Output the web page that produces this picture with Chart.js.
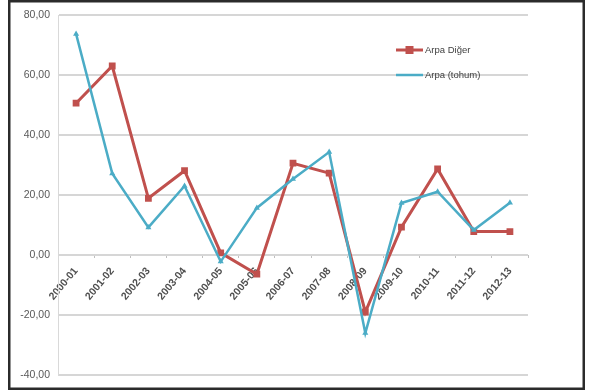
<!DOCTYPE html>
<html>
<head>
<meta charset="utf-8">
<script src="https://cdn.jsdelivr.net/npm/chart.js@4/dist/chart.umd.min.js"></script>
<style>
  html, body { margin: 0; padding: 0; background: #ffffff; }
  #wrap { position: relative; width: 596px; height: 391px; }
  canvas { display: block; filter: blur(0.45px); }
</style>
</head>
<body>
<div id="wrap"><canvas id="c" width="596" height="391"></canvas></div>
<script>
// ---- data ----
const categories = ["2000-01","2001-02","2002-03","2003-04","2004-05","2005-06","2006-07","2007-08","2008-09","2009-10","2010-11","2011-12","2012-13"];
const arpaDiger = [50.6, 63.0, 18.9, 28.1, 0.7, -6.4, 30.6, 27.3, -19.0, 9.3, 28.7, 7.8, 7.8];
const arpaTohum = [73.7, 27.2, 9.2, 23.0, -2.2, 15.7, 25.3, 34.3, -26.0, 17.3, 21.1, 8.3, 17.4];
const seriesNames = ["Arpa Diğer", "Arpa (tohum)"];
const yTicks = [80, 60, 40, 20, 0, -20, -40];

const RED = "#c0504d";
const BLUE = "#4bacc6";

const framePlugin = {
  id: "frame",
  beforeDraw(chart) {
    const ctx = chart.ctx;
    ctx.save();
    ctx.fillStyle = "#ffffff";
    ctx.fillRect(0, 0, chart.width, chart.height);
    ctx.restore();
  },
  afterDraw(chart) {
    const ctx = chart.ctx;
    ctx.save();
    ctx.strokeStyle = "#2b2b2b";
    ctx.lineWidth = 2.5;
    ctx.strokeRect(9.25, 1.25, 574.5, 387.5);
    ctx.restore();
  }
};

const legendPlugin = {
  id: "insideLegend",
  afterDatasetsDraw(chart) {
    const ctx = chart.ctx;
    const items = [
      { label: seriesNames[0], color: RED, y: 50, marker: "rect" },
      { label: seriesNames[1], color: BLUE, y: 75, marker: "none" }
    ];
    ctx.save();
    items.forEach(it => {
      ctx.strokeStyle = it.color;
      ctx.lineWidth = it.marker === "rect" ? 3 : 2.5;
      ctx.beginPath();
      ctx.moveTo(396, it.y);
      ctx.lineTo(423, it.y);
      ctx.stroke();
      if (it.marker === "rect") {
        ctx.fillStyle = it.color;
        ctx.fillRect(405.5, it.y - 4, 8, 8);
      }
      ctx.fillStyle = "#404040";
      ctx.font = "9.5px 'Liberation Sans', Arial, sans-serif";
      ctx.textBaseline = "middle";
      ctx.textAlign = "left";
      ctx.fillText(it.label, 425, it.y);
    });
    ctx.restore();
  }
};

new Chart(document.getElementById("c"), {
  type: "line",
  data: {
    labels: categories,
    datasets: [
      {
        label: seriesNames[0],
        data: arpaDiger,
        borderColor: RED,
        backgroundColor: RED,
        borderWidth: 3,
        pointStyle: "rect",
        pointRadius: 4.8,
        pointBorderWidth: 0,
        tension: 0,
        order: 2
      },
      {
        label: seriesNames[1],
        data: arpaTohum,
        borderColor: BLUE,
        backgroundColor: BLUE,
        borderWidth: 2.5,
        pointStyle: "triangle",
        pointRadius: 3.5,
        pointBorderWidth: 0,
        tension: 0,
        order: 1
      }
    ]
  },
  options: {
    responsive: false,
    animation: false,
    devicePixelRatio: 1,
    layout: { padding: { left: 8, right: 68, top: 15, bottom: 16 } },
    plugins: {
      legend: { display: false },
      tooltip: { enabled: false },
      title: { display: false }
    },
    scales: {
      x: {
        type: "category",
        offset: true,
        position: { y: 0 },
        border: { display: false },
        grid: {
          offset: true,
          drawOnChartArea: false,
          drawTicks: true,
          tickLength: 3,
          color: "#bfbfbf"
        },
        ticks: {
          autoSkip: false,
          minRotation: 50,
          maxRotation: 50,
          padding: 7,
          color: "#505050",
          font: { family: "'Liberation Sans', Arial, sans-serif", size: 10.5, weight: "bold" }
        }
      },
      y: {
        min: -40,
        max: 80,
        afterFit(scale) { scale.width = 50; },
        afterBuildTicks(scale) { scale.ticks = yTicks.map(v => ({ value: v })); },
        border: { display: true, color: "#d9d9d9", width: 1 },
        grid: {
          color: "#d6d6d6",
          lineWidth: 2,
          drawTicks: false
        },
        ticks: {
          padding: 8,
          color: "#595959",
          font: { family: "'Liberation Sans', Arial, sans-serif", size: 10.5 },
          callback: v => v.toFixed(2).replace(".", ",")
        }
      }
    }
  },
  plugins: [framePlugin, legendPlugin]
});
</script>
</body>
</html>
